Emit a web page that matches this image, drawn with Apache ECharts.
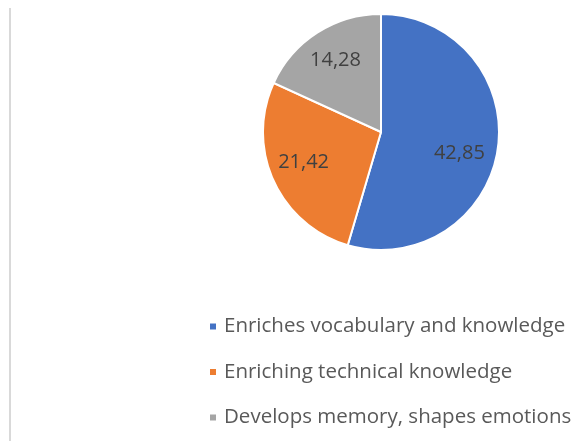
<!DOCTYPE html>
<html><head><meta charset="utf-8">
<script src="https://cdn.jsdelivr.net/npm/echarts@6/dist/echarts.min.js"></script>
<style>html,body{margin:0;padding:0;background:#fff}#c{width:573px;height:441px}</style>
</head><body><div id="c"></div>
<script>
const categories = ['Enriches vocabulary and knowledge', 'Enriching technical knowledge', 'Develops memory, shapes emotions'];
const values = [42.85, 21.42, 14.28];
const colors = ['#4472C4', '#ED7D31', '#A5A5A5'];
const labelShift = [[17, 12], [-21, 5], [-12, -20]];

const chart = echarts.init(document.getElementById('c'));
chart.setOption({
  animation: false,
  color: colors,
  graphic: [{type: 'line', shape: {x1: 10, y1: 8, x2: 10, y2: 441}, style: {stroke: '#d9d9d9', lineWidth: 2}}],
  legend: {
    orient: 'vertical', left: 203, top: 311, itemWidth: 8, itemHeight: 8, itemGap: 24.5, icon: 'rect',
    textStyle: {fontFamily: 'Open Sans', fontSize: 20.5, lineHeight: 20, color: '#595959', padding: [0, 0, 0, 2]},
    data: categories
  },
  series: [{
    type: 'pie', center: [381, 132], radius: 118, startAngle: 90, clockwise: true,
    itemStyle: {borderColor: '#fff', borderWidth: 2},
    label: {position: 'inside', formatter: p => String(p.value).replace('.', ','), fontFamily: 'Open Sans', fontSize: 20, color: '#404040'},
    labelLine: {show: false},
    labelLayout: p => ({dx: labelShift[p.dataIndex][0], dy: labelShift[p.dataIndex][1]}),
    emphasis: {disabled: true},
    data: categories.map((n, i) => ({name: n, value: values[i]}))
  }]
});
</script></body></html>
